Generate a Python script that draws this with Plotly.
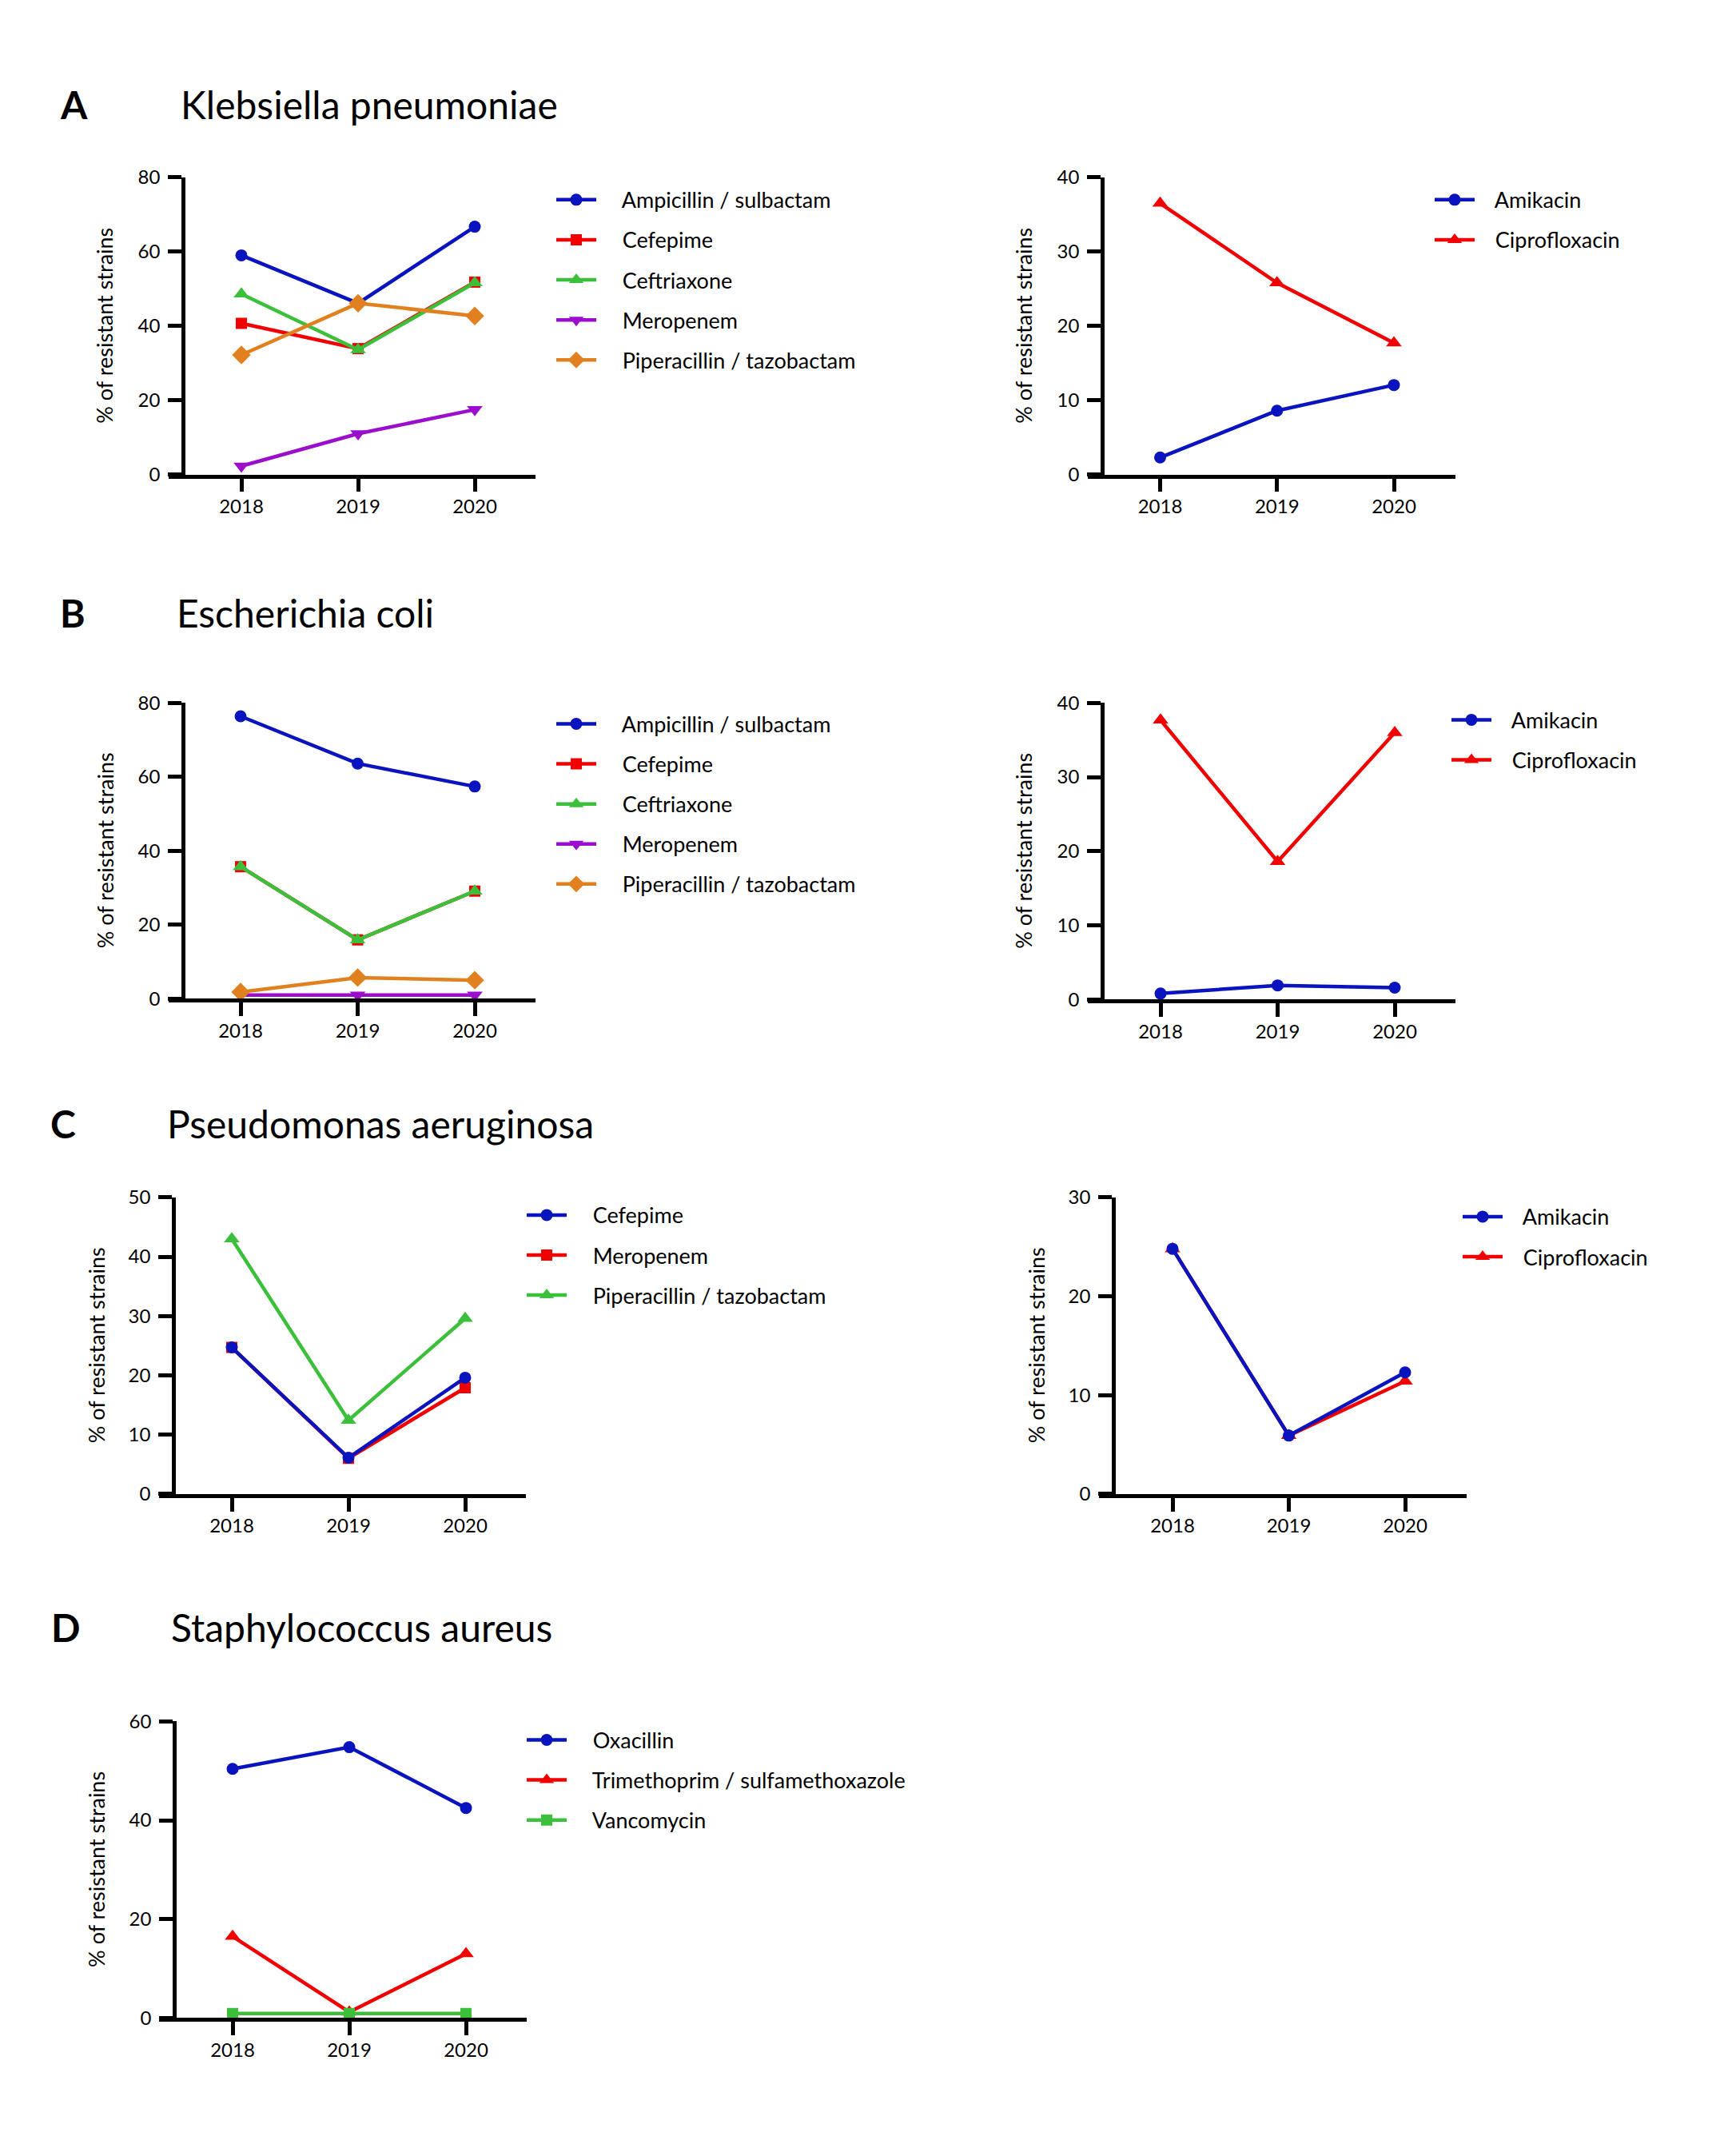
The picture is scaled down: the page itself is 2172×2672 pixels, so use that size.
import plotly.graph_objects as go

# ---------------- data ----------------
years = [2018, 2019, 2020]

# A  Klebsiella pneumoniae
kp_ampicillin_sulbactam = [59.0, 46.1, 66.7]
kp_cefepime = [40.7, 33.9, 51.8]
kp_ceftriaxone = [48.6, 33.6, 51.6]
kp_meropenem = [2.3, 11.0, 17.5]
kp_piperacillin_tazobactam = [32.2, 46.1, 42.7]
kp_amikacin = [2.3, 8.6, 12.05]
kp_ciprofloxacin = [36.5, 25.8, 17.7]

# B  Escherichia coli
ec_ampicillin_sulbactam = [76.4, 63.6, 57.4]
ec_cefepime = [35.7, 15.9, 29.1]
ec_ceftriaxone = [35.7, 15.9, 29.1]
ec_meropenem = [1.0, 1.0, 1.0]
ec_piperacillin_tazobactam = [1.8, 5.7, 5.0]
ec_amikacin = [0.8, 1.9, 1.6]
ec_ciprofloxacin = [37.7, 18.6, 36.0]

# C  Pseudomonas aeruginosa
pa_cefepime = [24.7, 6.1, 19.6]
pa_meropenem = [24.7, 6.0, 17.9]
pa_piperacillin_tazobactam = [43.0, 12.4, 29.6]
pa_amikacin = [24.8, 5.9, 12.3]
pa_ciprofloxacin = [24.8, 5.9, 11.4]

# D  Staphylococcus aureus
sa_oxacillin = [50.4, 54.8, 42.5]
sa_trimethoprim_sulfamethoxazole = [16.5, 1.2, 13.0]
sa_vancomycin = [0.9, 0.9, 0.9]

y_title = "% of resistant strains"

# ---------------- styles ----------------
BLUE = "#0A14BE"
RED = "#F00000"
GREEN = "#3CC03C"
PURPLE = "#9B0ECC"
ORANGE = "#E1801F"
FONT = "Lato"
NBSP = "\u00a0"

W, H = 2172, 2672


def PX(x):
    return x - 9


def PY(y):
    return (y - 26.7) / 0.98675


# panel geometry (pixels, in the reference frame)
panels = {
    1: dict(xl=212, yx=230, x18=303, x20=595, xr=671, top=224, bot=595, ymax=80, dtick=20, ytx=132, lx=692, ly=250, pad=4),
    2: dict(xl=1362, yx=1380, x18=1452.5, x20=1745, xr=1822, top=224, bot=595, ymax=40, dtick=10, ytx=1282, lx=1791, ly=250, pad=3),
    3: dict(xl=212, yx=230, x18=302, x20=595, xr=671, top=880, bot=1249, ymax=80, dtick=20, ytx=132, lx=692, ly=904, pad=4),
    4: dict(xl=1362, yx=1380, x18=1453, x20=1746, xr=1822, top=880, bot=1250, ymax=40, dtick=10, ytx=1282, lx=1812, ly=899, pad=3),
    5: dict(xl=200, yx=218, x18=291, x20=583, xr=659, top=1497, bot=1867, ymax=50, dtick=10, ytx=121, lx=655, ly=1517, pad=4),
    6: dict(xl=1376, yx=1394, x18=1468, x20=1759, xr=1836, top=1497, bot=1867, ymax=30, dtick=10, ytx=1297, lx=1826, ly=1519, pad=3),
    7: dict(xl=200, yx=219, x18=292, x20=584, xr=660, top=2151, bot=2521, ymax=60, dtick=20, ytx=122, lx=655, ly=2172, pad=4),
}

# series per panel: (name, values, color, symbol, legend rank); list order = draw order
series = {
    1: [("Ampicillin / sulbactam", kp_ampicillin_sulbactam, BLUE, "circle", 1),
        ("Cefepime", kp_cefepime, RED, "square", 2),
        ("Ceftriaxone", kp_ceftriaxone, GREEN, "triangle-up", 3),
        ("Meropenem", kp_meropenem, PURPLE, "triangle-down", 4),
        ("Piperacillin / tazobactam", kp_piperacillin_tazobactam, ORANGE, "diamond", 5)],
    2: [("Amikacin", kp_amikacin, BLUE, "circle", 1),
        ("Ciprofloxacin", kp_ciprofloxacin, RED, "triangle-up", 2)],
    3: [("Ampicillin / sulbactam", ec_ampicillin_sulbactam, BLUE, "circle", 1),
        ("Cefepime", ec_cefepime, RED, "square", 2),
        ("Ceftriaxone", ec_ceftriaxone, GREEN, "triangle-up", 3),
        ("Meropenem", ec_meropenem, PURPLE, "triangle-down", 4),
        ("Piperacillin / tazobactam", ec_piperacillin_tazobactam, ORANGE, "diamond", 5)],
    4: [("Amikacin", ec_amikacin, BLUE, "circle", 1),
        ("Ciprofloxacin", ec_ciprofloxacin, RED, "triangle-up", 2)],
    5: [("Meropenem", pa_meropenem, RED, "square", 2),
        ("Cefepime", pa_cefepime, BLUE, "circle", 1),
        ("Piperacillin / tazobactam", pa_piperacillin_tazobactam, GREEN, "triangle-up", 3)],
    6: [("Ciprofloxacin", pa_ciprofloxacin, RED, "triangle-up", 2),
        ("Amikacin", pa_amikacin, BLUE, "circle", 1)],
    7: [("Oxacillin", sa_oxacillin, BLUE, "circle", 1),
        ("Trimethoprim / sulfamethoxazole", sa_trimethoprim_sulfamethoxazole, RED, "triangle-up", 2),
        ("Vancomycin", sa_vancomycin, GREEN, "square", 3)],
}

msize = {"circle": 15, "square": 14, "triangle-up": 17, "triangle-down": 17, "diamond": 18}

fig = go.Figure()
layout = dict(
    width=W, height=H,
    margin=dict(l=0, r=0, t=0, b=0),
    paper_bgcolor="white", plot_bgcolor="white",
    showlegend=True,
    font=dict(family=FONT, color="black"),
)

for i, p in panels.items():
    sfx = "" if i == 1 else str(i)
    per = (p["x20"] - p["x18"]) / 2.0
    xrange = [2018 - (p["x18"] - p["xl"]) / per, 2020 + (p["xr"] - p["x20"]) / per]
    for name, vals, col, sym, rank in series[i]:
        fig.add_trace(go.Scatter(
            x=years, y=vals, name=NBSP * p["pad"] + name, mode="lines+markers",
            line=dict(color=col, width=4.5),
            marker=dict(color=col, symbol=sym, size=msize[sym]),
            xaxis="x" + sfx, yaxis="y" + sfx, legend="legend" + sfx,
            legendgroup=f"p{i}_{rank}", legendrank=rank, cliponaxis=False,
        ))
    layout["xaxis" + sfx] = dict(
        domain=[PX(p["xl"]) / W, PX(p["xr"]) / W], anchor="y" + sfx, range=xrange,
        tickmode="array", tickvals=years, ticktext=[str(y) for y in years],
        ticks="outside", ticklen=17, tickwidth=4.5, tickcolor="black",
        showline=True, linewidth=4.5, linecolor="black",
        showgrid=False, zeroline=False, ticklabelstandoff=-2,
        tickfont=dict(family=FONT, size=24, color="black"),
    )
    layout["yaxis" + sfx] = dict(
        domain=[1 - PY(p["bot"]) / H, 1 - PY(p["top"]) / H], anchor="free", position=PX(p["yx"]) / W,
        range=[0, p["ymax"]], tickmode="linear", tick0=0, dtick=p["dtick"],
        ticks="outside", ticklen=17, tickwidth=4.5, tickcolor="black",
        showline=True, linewidth=4.5, linecolor="black",
        showgrid=False, zeroline=False, ticklabelstandoff=5,
        tickfont=dict(family=FONT, size=24, color="black"),
    )
    layout["legend" + sfx] = dict(
        x=PX(p["lx"]) / W, y=1 - PY(p["ly"] - 22) / H, xanchor="left", yanchor="top",
        font=dict(family=FONT, size=27, color="black"),
        bgcolor="rgba(0,0,0,0)", borderwidth=0, tracegroupgap=12, itemwidth=50,
        itemclick=False, itemdoubleclick=False,
    )

annotations = []
for i, p in panels.items():
    annotations.append(dict(
        text=y_title, x=PX(p["ytx"]) / W, y=1 - PY((p["top"] + p["bot"]) / 2) / H,
        xref="paper", yref="paper", xanchor="center", yanchor="middle",
        textangle=-90, showarrow=False, font=dict(family=FONT, size=27, color="black"),
    ))

titles = [
    ("A", 74, "Klebsiella pneumoniae", 225, 150),
    ("B", 74, "Escherichia coli", 220, 784),
    ("C", 62, "Pseudomonas aeruginosa", 208, 1422),
    ("D", 63, "Staphylococcus aureus", 213, 2050),
]
for letter, lx, title, tx, base in titles:
    yc = 1 - PY(base - 17) / H
    annotations.append(dict(text="<b>" + letter + "</b>", x=PX(lx) / W, y=yc, xref="paper", yref="paper",
                            xanchor="left", yanchor="middle", showarrow=False,
                            font=dict(family=FONT, size=48, color="black")))
    annotations.append(dict(text=title, x=PX(tx) / W, y=yc, xref="paper", yref="paper",
                            xanchor="left", yanchor="middle", showarrow=False,
                            font=dict(family=FONT, size=48, color="black")))
layout["annotations"] = annotations

fig.update_layout(**layout)
fig.write_html("out.html")
